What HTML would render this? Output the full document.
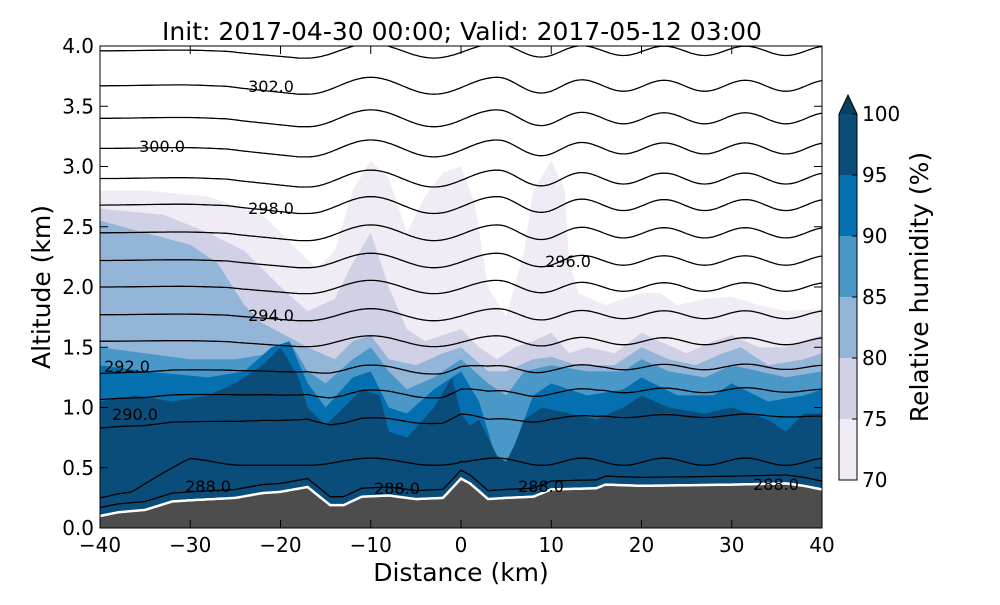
<!DOCTYPE html>
<html><head><meta charset="utf-8"><style>
body{margin:0;background:#fff;width:1000px;height:600px;overflow:hidden}
text{font-family:"DejaVu Sans","Liberation Sans",sans-serif}
</style></head><body>
<svg id="s" width="1000" height="600" xmlns="http://www.w3.org/2000/svg">
<defs><clipPath id="c"><rect x="100" y="46" width="722" height="482"/></clipPath></defs>
<g id="fills" clip-path="url(#c)"></g>
<g id="lines" clip-path="url(#c)" fill="none" stroke="#000" stroke-width="1.3"></g>
<g id="terr" clip-path="url(#c)"></g>
<g id="labs"></g>
<rect x="100" y="46" width="722" height="482" fill="none" stroke="#000" stroke-width="1"/>
<g id="ticks" stroke="#000" stroke-width="1"></g>
<text x="462" y="40" font-size="25" text-anchor="middle">Init: 2017-04-30 00:00; Valid: 2017-05-12 03:00</text>
<text x="461" y="581" font-size="25" text-anchor="middle">Distance (km)</text>
<text transform="translate(50,287) rotate(-90)" font-size="25" text-anchor="middle">Altitude (km)</text>
<g id="cb"></g>
<text transform="translate(928,287) rotate(-90)" font-size="25" text-anchor="middle">Relative humidity (%)</text>
</svg>
<script>
var NS="http://www.w3.org/2000/svg";
function el(p,t,a){var e=document.createElementNS(NS,t);for(var k in a)e.setAttribute(k,a[k]);p.appendChild(e);return e;}
function X(x){return 100+(x+40)*722/80;}
function Y(h){return 528-h*120.5;}
function interp(arr,x){for(var i=0;i<arr.length-1;i++){if(x<=arr[i+1][0]){var t=(x-arr[i][0])/(arr[i+1][0]-arr[i][0]);return arr[i][1]+t*(arr[i+1][1]-arr[i][1]);}}return arr[arr.length-1][1];}
var terr=[[-40,0.1],[-38,0.13],[-35,0.15],[-32,0.22],[-30,0.23],[-25,0.25],[-22,0.29],[-20,0.3],[-17,0.34],[-15.5,0.25],[-14.5,0.19],[-13,0.19],[-11,0.26],[-8,0.27],[-5,0.24],[-2,0.25],[0,0.41],[1,0.37],[3,0.24],[5,0.25],[8,0.26],[10,0.32],[15,0.33],[16,0.36],[20,0.35],[30,0.36],[36,0.37],[38,0.35],[40,0.32]];
var ext=[[-40,0],[-31,1],[-24,-1],[-17,-1],[-10,1],[-3,-1],[4,1],[9,-1],[13.5,1],[18,-1],[22.5,1],[27,-1],[31.5,1],[36,-1],[40.5,1]];
function wave(x){for(var i=0;i<ext.length-1;i++){if(x<=ext[i+1][0]){var t=(x-ext[i][0])/(ext[i+1][0]-ext[i][0]);var a=ext[i][1],b=ext[i+1][1];var s=(1-Math.cos(Math.PI*t))/2;return a+(b-a)*s;}}return 0;}
function amp(x){if(x<-26)return 0.1;if(x<-18)return 0.1+(x+26)/8*0.9;if(x<5)return 1;if(x<15)return 1-(x-5)*0.035;return 0.65;}
var fills=[
["#f0ebf4",[[-40,2.8],[-35,2.8],[-28,2.75],[-22,2.6],[-18,2.3],[-16,2.15],[-14,2.3],[-12,2.8],[-10,3.05],[-8,2.9],[-6,2.45],[-4,2.75],[-2,2.95],[0,3.0],[1.5,2.7],[3,2.0],[5,1.75],[7,2.3],[8,2.8],[10,3.05],[11.5,2.8],[12,2.2],[13,1.95],[16,1.85],[18,1.9],[20,1.95],[22,1.95],[24,1.85],[27,1.9],[30,1.92],[33,1.85],[36,1.8],[40,1.82]]],
["#d0d1e6",[[-40,2.65],[-33,2.6],[-28,2.45],[-24,2.3],[-20,2.0],[-17,1.8],[-14,1.9],[-12,2.2],[-10,2.45],[-8,2.0],[-6,1.65],[-4,1.55],[-2,1.6],[0,1.65],[2,1.5],[4,1.4],[6,1.5],[8,1.55],[10,1.62],[12,1.45],[14,1.5],[17,1.45],[20,1.62],[22,1.55],[25,1.45],[28,1.55],[30,1.6],[33,1.5],[36,1.5],[38,1.55],[40,1.6]]],
["#93b5d8",[[-40,2.55],[-35,2.45],[-30,2.35],[-27,2.2],[-24,1.85],[-22,1.7],[-20,1.62],[-17,1.5],[-14,1.4],[-12,1.55],[-10,1.6],[-8,1.4],[-5,1.35],[-2,1.45],[0,1.5],[3,1.3],[5,1.3],[8,1.4],[10,1.42],[13,1.35],[17,1.35],[20,1.5],[23,1.4],[26,1.35],[29,1.45],[31,1.5],[34,1.35],[38,1.4],[40,1.45]]],
["#4a98c8",[[-40,1.5],[-35,1.45],[-30,1.4],[-25,1.4],[-21,1.45],[-19,1.55],[-17,1.3],[-15,1.2],[-12,1.4],[-10,1.5],[-8,1.3],[-6,1.15],[-3,1.25],[0,1.4],[3,1.2],[5,1.1],[7,1.3],[10,1.35],[14,1.3],[18,1.3],[20,1.4],[23,1.3],[27,1.25],[30,1.35],[33,1.3],[36,1.25],[40,1.3]]],
["#0570b0",[[-40,1.35],[-35,1.3],[-28,1.25],[-24,1.3],[-21,1.5],[-19,1.55],[-17,1.2],[-15,1.0],[-12,1.25],[-10,1.3],[-8,1.0],[-6,0.95],[-3,1.15],[0,1.3],[2,1.05],[3,0.8],[4,0.55],[5,0.4],[6,0.7],[8,1.1],[10,1.2],[14,1.1],[18,1.15],[20,1.25],[24,1.1],[28,1.1],[30,1.2],[34,1.05],[38,1.1],[40,1.15]]],
["#0b4d7a",[[-40,1.05],[-36,1.1],[-32,1.05],[-28,1.1],[-25,1.2],[-22,1.35],[-20,1.5],[-18,1.25],[-17,1.0],[-15,0.85],[-13,1.0],[-11,1.15],[-9,1.1],[-8,0.8],[-6,0.75],[-3,1.0],[-1,1.25],[0,0.95],[1,0.85],[2,0.9],[3,0.75],[4,0.6],[5,0.55],[6,0.7],[7,0.9],[9,1.0],[12,0.95],[15,0.9],[18,1.0],[20,1.1],[23,1.0],[27,0.95],[30,1.0],[34,0.9],[36,0.8],[38,0.95],[40,0.95]]]
];
var F=document.getElementById("fills");
fills.forEach(function(f){var d="M"+X(-40)+","+Y(0);for(var x=-40;x<=40.001;x+=0.25){d+=" L"+X(x).toFixed(1)+","+Y(interp(f[1],x)).toFixed(1);}d+=" L"+X(40)+","+Y(0)+"Z";el(F,"path",{d:d,fill:f[0]});});
var L=document.getElementById("lines");
var levels=[[288,0.27,0.02],[289,0.55,0.02],[290,0.9,0.02],[291,1.12,0.03],[292,1.32,0.035],[293,1.55,0.045],[294,1.77,0.05],[295,2.0,0.055],[296,2.22,0.06],[297,2.45,0.065],[298,2.68,0.07],[299,2.9,0.07],[300,3.15,0.07],[301,3.4,0.07],[302,3.67,0.07],[303,3.96,0.06]];
levels.forEach(function(l){var d="";for(var x=-40;x<=40.001;x+=0.25){var t=interp(terr,x);var base=l[1];var h;
 if(l[0]==288){h=t+0.07;}
 else if(l[0]==289){h=Math.max(t+0.15,base+(x<-30?(x+30)*0.04:0))+0.03*wave(x);}
 else{h=base+l[2]*amp(x)*wave(x)+(l[0]<=292?0.3*(t-0.28)*(1.3-(l[0]-290)*0.3):0);}
 d+=(d?" L":"M")+X(x).toFixed(1)+","+Y(h).toFixed(1);}
 el(L,"path",{d:d});});
var T=document.getElementById("terr");var d="M"+X(-40)+","+Y(0);var d2="";
for(var x=-40;x<=40.001;x+=0.25){var p=X(x).toFixed(1)+","+Y(interp(terr,x)).toFixed(1);d+=" L"+p;d2+=(d2?" L":"M")+p;}
d+=" L"+X(40)+","+Y(0)+"Z";el(T,"path",{d:d,fill:"#4d4d4d"});el(T,"path",{d:d2,fill:"none",stroke:"#fff","stroke-width":2.5});
var LB=document.getElementById("labs");
[["302.0",271,86],["300.0",162,146],["298.0",271,208],["296.0",568,261],["294.0",271,315],["292.0",127,366],["290.0",135,414],["288.0",208,486],["288.0",397,488],["288.0",541,486],["288.0",776,484]].forEach(function(a){
 var t=el(LB,"text",{x:a[1],y:a[2]+6,"font-size":16,"text-anchor":"middle"});t.textContent=a[0];});
var S=document.getElementById("s");var TK=document.getElementById("ticks");
for(var v=-40;v<=40;v+=10){var x=X(v);el(TK,"line",{x1:x,y1:528,x2:x,y2:520});el(TK,"line",{x1:x,y1:46,x2:x,y2:54});
 var t=el(S,"text",{x:x,y:552,"font-size":20,"text-anchor":"middle"});t.textContent=(v<0?"\u2212"+(-v):v);}
for(var v=0;v<=4.001;v+=0.5){var y=Y(v);el(TK,"line",{x1:100,y1:y,x2:108,y2:y});el(TK,"line",{x1:822,y1:y,x2:814,y2:y});
 var t=el(S,"text",{x:94,y:y+7,"font-size":20,"text-anchor":"end"});t.textContent=v.toFixed(1);}
var CB=document.getElementById("cb");var cols=["#0b4d7a","#0570b0","#4a98c8","#93b5d8","#d0d1e6","#f0ebf4"];
for(var i=0;i<6;i++)el(CB,"rect",{x:839,y:114+i*61,width:18,height:61,fill:cols[i]});
el(CB,"polygon",{points:"839,114 857,114 848,95",fill:"#08405f"});
el(CB,"polygon",{points:"839,480 839,114 848,95 857,114 857,480",fill:"none",stroke:"#000","stroke-width":1});
for(var i=0;i<=6;i++){var y=114+i*61;el(CB,"line",{x1:852,y1:y,x2:857,y2:y,stroke:"#000"});var t=el(CB,"text",{x:862,y:y+7,"font-size":20});t.textContent=100-5*i;}
</script>
</body></html>
